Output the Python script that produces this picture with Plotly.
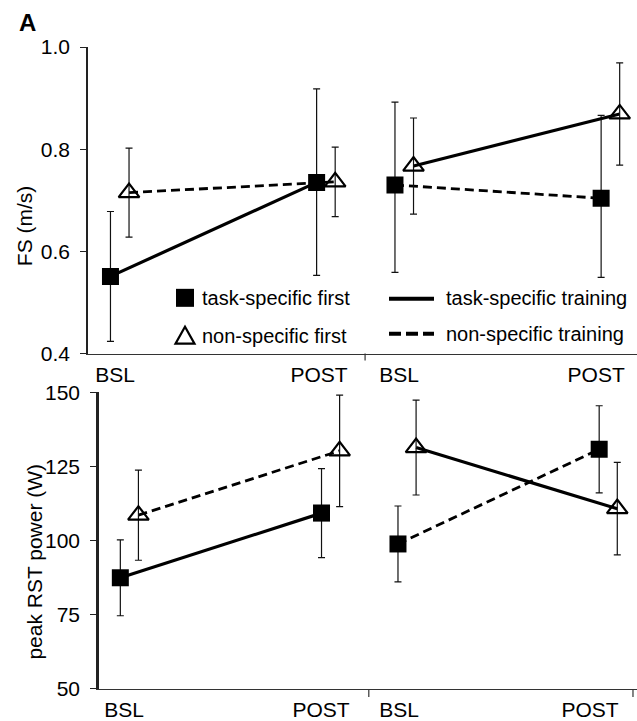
import plotly.graph_objects as go

# ---------------- data ----------------
PHASES = ["BSL", "POST", "BSL", "POST"]          # period 1 then period 2
GROUPS = ["task-specific first", "non-specific first"]

# Panel A: FS (m/s)
FS_TASK_FIRST = [0.551, 0.735, 0.730, 0.704]
FS_TASK_FIRST_PLUS = [0.127, 0.183, 0.162, 0.162]
FS_TASK_FIRST_MINUS = [0.127, 0.182, 0.171, 0.155]
FS_NON_FIRST = [0.715, 0.736, 0.767, 0.869]
FS_NON_FIRST_PLUS = [0.087, 0.068, 0.094, 0.100]
FS_NON_FIRST_MINUS = [0.087, 0.068, 0.094, 0.100]

# Panel B: peak RST power (W)
PW_TASK_FIRST = [87.5, 109.3, 98.9, 130.8]
PW_TASK_FIRST_ERR = [12.8, 15.0, 12.8, 14.7]
PW_NON_FIRST = [108.6, 130.3, 131.4, 110.8]
PW_NON_FIRST_ERR = [15.2, 18.8, 16.0, 15.6]

# training type done in each period by each group
TRAINING_TASK_FIRST = ["task", "non"]
TRAINING_NON_FIRST = ["non", "task"]

# ---------------- layout constants ----------------
X_BASE = [0.0, 1.0, 1.38, 2.38]
OFFSET = {"task-specific first": -0.045, "non-specific first": 0.045}
DIVIDER = (X_BASE[1] + X_BASE[2]) / 2
TOP_XLABEL_POS = [-0.023, 0.967, 1.355, 2.311]
BOT_XLABEL_POS = [-0.026, 0.953, 1.340, 2.290]

FONT = "Liberation Sans, Arial, sans-serif"
W, H = 637, 721
ML, MR, MT, MB = 88, 0, 47, 29
PW_ = W - ML - MR
PH_ = H - MT - MB


def px_x(px):
    return (px - ML) / PW_


def px_y(py):
    return (H - MB - py) / PH_


TOP_DOM = [px_y(355), 1.0]
BOT_DOM = [0.0, px_y(394)]

fig = go.Figure()

SQUARE = dict(symbol="square", size=17, color="black", line=dict(width=0))
TRI = dict(symbol="triangle-up-open", size=18, color="black", line=dict(width=2.2, color="black"))
DASH = {"task": "solid", "non": "9px,5px"}
LW = {"task": 3.2, "non": 2.8}


def add_panel(xa, ya, series):
    for name, vals, plus, minus, trainings, marker in series:
        xs = [X_BASE[i] + OFFSET[name] for i in range(4)]
        # connecting lines per period
        for p in range(2):
            i0, i1 = 2 * p, 2 * p + 1
            t = trainings[p]
            fig.add_trace(go.Scatter(
                x=[xs[i0], xs[i1]], y=[vals[i0], vals[i1]], mode="lines",
                line=dict(color="black", width=LW[t], dash=DASH[t]),
                xaxis=xa, yaxis=ya, showlegend=False, hoverinfo="skip"))
        fig.add_trace(go.Scatter(
            x=xs, y=vals, mode="markers", name=name, marker=marker,
            error_y=dict(type="data", array=plus, arrayminus=minus, symmetric=False,
                         color="#111", thickness=1.2, width=3.5),
            xaxis=xa, yaxis=ya, showlegend=False))


add_panel("x", "y", [
    ("task-specific first", FS_TASK_FIRST, FS_TASK_FIRST_PLUS, FS_TASK_FIRST_MINUS, TRAINING_TASK_FIRST, SQUARE),
    ("non-specific first", FS_NON_FIRST, FS_NON_FIRST_PLUS, FS_NON_FIRST_MINUS, TRAINING_NON_FIRST, TRI),
])
add_panel("x2", "y2", [
    ("task-specific first", PW_TASK_FIRST, PW_TASK_FIRST_ERR, PW_TASK_FIRST_ERR, TRAINING_TASK_FIRST, SQUARE),
    ("non-specific first", PW_NON_FIRST, PW_NON_FIRST_ERR, PW_NON_FIRST_ERR, TRAINING_NON_FIRST, TRI),
])

tickfont = dict(family=FONT, size=21, color="black")
xcommon = dict(showgrid=False, zeroline=False, showline=True, linecolor="#333", linewidth=1.2,
               ticks="", tickmode="array", ticktext=PHASES, tickfont=tickfont,
               ticklabelstandoff=2, fixedrange=True)
ycommon = dict(showgrid=False, zeroline=False, showline=True, linecolor="#222",
               ticks="outside", ticklen=6, tickcolor="#222", tickfont=tickfont,
               ticklabelstandoff=6, fixedrange=True)

fig.update_layout(
    width=W, height=H,
    margin=dict(l=ML, r=MR, t=MT, b=MB),
    paper_bgcolor="white", plot_bgcolor="white",
    font=dict(family=FONT, color="black"),
    showlegend=False,
    xaxis=dict(domain=[0, 1], range=[-0.154, 2.509], anchor="y", tickvals=TOP_XLABEL_POS, **xcommon),
    yaxis=dict(domain=TOP_DOM, range=[0.4, 1.0], anchor="x", tickvals=[0.4, 0.6, 0.8, 1.0],
               tickformat=".1f", linewidth=1.5, **ycommon),
    xaxis2=dict(domain=[px_x(99), 1], range=[-0.151, 2.523], anchor="y2", tickvals=BOT_XLABEL_POS, **xcommon),
    yaxis2=dict(domain=BOT_DOM, range=[50, 150], anchor="x2", tickvals=[50, 75, 100, 125, 150],
                linewidth=2.5, **ycommon),
)

shapes = []
# divider ticks under x axes
shapes.append(dict(type="line", xref="x", yref="y domain", x0=DIVIDER, x1=DIVIDER, y0=0, y1=-7 / 308,
                   line=dict(color="#333", width=1.2)))
shapes.append(dict(type="line", xref="x2", yref="y2 domain", x0=DIVIDER, x1=DIVIDER, y0=0, y1=-8 / 298,
                   line=dict(color="#333", width=1.2)))
shapes.append(dict(type="line", xref="x2", yref="y2 domain", x0=2.503, x1=2.503, y0=0, y1=-8 / 298,
                   line=dict(color="#333", width=1.2)))

# legend glyphs
shapes.append(dict(type="rect", xref="paper", yref="paper", xsizemode="pixel", ysizemode="pixel",
                   xanchor=px_x(185), yanchor=px_y(299), x0=-9, x1=9, y0=-9, y1=9,
                   fillcolor="black", line=dict(width=0)))
shapes.append(dict(type="path", xref="paper", yref="paper", xsizemode="pixel", ysizemode="pixel",
                   xanchor=px_x(185), yanchor=px_y(337), path="M-9.5,-8 L9.5,-8 L0,9 Z",
                   fillcolor="rgba(0,0,0,0)", line=dict(color="black", width=2.2)))
shapes.append(dict(type="line", xref="paper", yref="paper", x0=px_x(389), x1=px_x(434),
                   y0=px_y(300), y1=px_y(300), line=dict(color="black", width=4)))
shapes.append(dict(type="line", xref="paper", yref="paper", x0=px_x(389), x1=px_x(434),
                   y0=px_y(335), y1=px_y(335), line=dict(color="black", width=4, dash="12px,5px")))
fig.update_layout(shapes=shapes)

ann = []
legend_font = dict(family=FONT, size=20, color="black")
ann.append(dict(text="task-specific first", x=px_x(200), y=px_y(299), xref="paper", yref="paper",
                xanchor="left", yanchor="middle", showarrow=False, font=legend_font))
ann.append(dict(text="non-specific first", x=px_x(200), y=px_y(337), xref="paper", yref="paper",
                xanchor="left", yanchor="middle", showarrow=False, font=legend_font))
ann.append(dict(text="task-specific training", x=px_x(444), y=px_y(299), xref="paper", yref="paper",
                xanchor="left", yanchor="middle", showarrow=False, font=legend_font))
ann.append(dict(text="non-specific training", x=px_x(444), y=px_y(335), xref="paper", yref="paper",
                xanchor="left", yanchor="middle", showarrow=False, font=legend_font))
# axis titles
ann.append(dict(text="FS (m/s)", x=px_x(24), y=px_y(227), xref="paper", yref="paper", textangle=-90,
                xanchor="center", yanchor="middle", showarrow=False, font=dict(family=FONT, size=21)))
ann.append(dict(text="peak RST power (W)", x=px_x(35), y=px_y(564), xref="paper", yref="paper",
                textangle=-90, xanchor="center", yanchor="middle", showarrow=False,
                font=dict(family=FONT, size=21)))
# panel label
ann.append(dict(text="<b>A</b>", x=px_x(27), y=px_y(22), xref="paper", yref="paper",
                xanchor="center", yanchor="middle", showarrow=False, font=dict(family=FONT, size=24)))
fig.update_layout(annotations=ann)

fig.write_html("out.html", config={"displayModeBar": False},
               post_script="document.body.style.margin='0';document.body.style.overflow='hidden';")
